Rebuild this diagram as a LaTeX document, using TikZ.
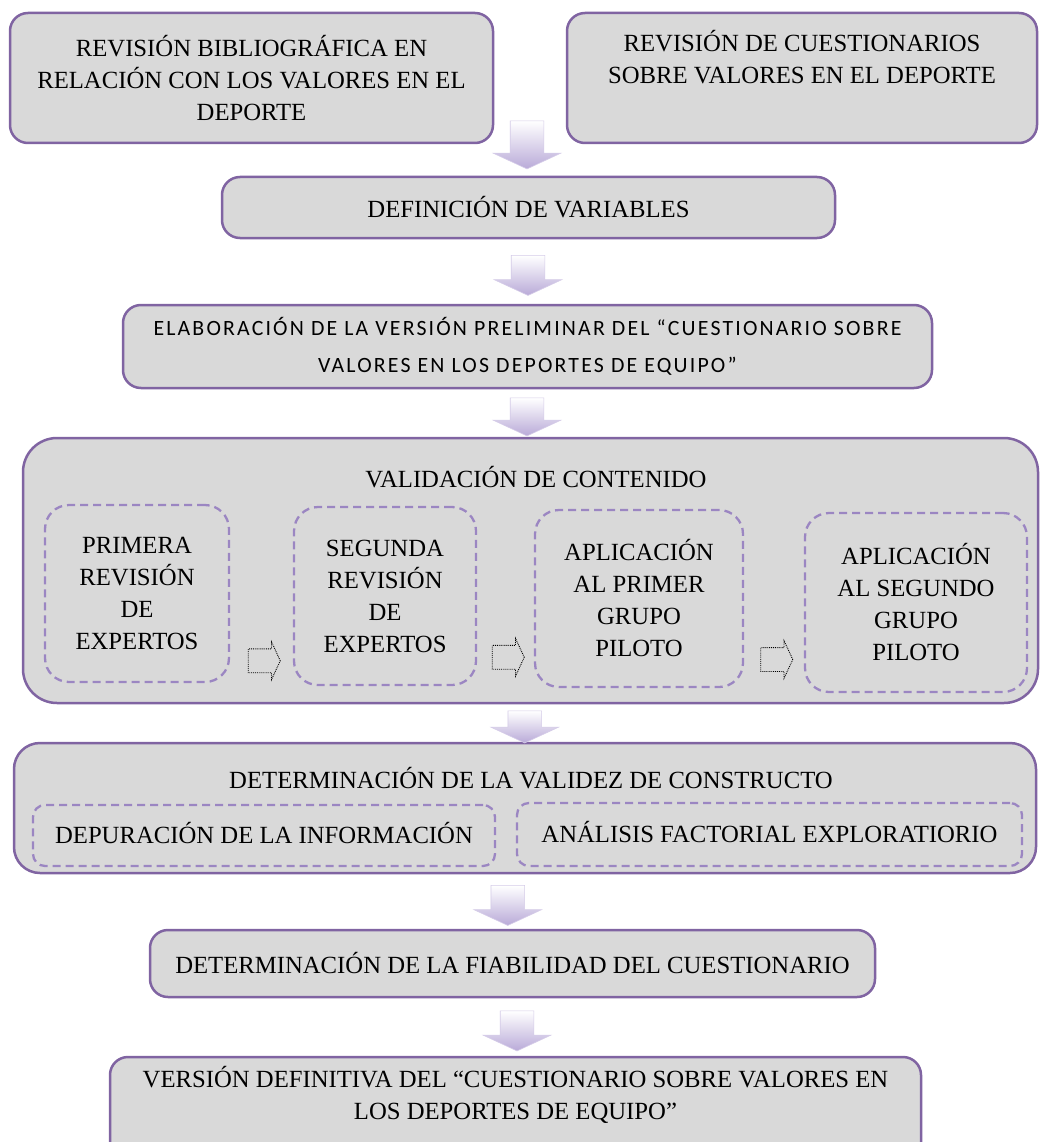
\documentclass[tikz,border=0pt]{standalone}
\usepackage{fontspec}
\setmainfont{Liberation Serif}
\newfontfamily\calfont[LetterSpace=10]{Carlito}
\usepackage{tikz}
\usetikzlibrary{shapes.arrows,calc,positioning}
\definecolor{boxfill}{RGB}{217,217,217}
\definecolor{boxline}{RGB}{128,100,162}
\definecolor{dashline}{RGB}{155,134,194}
\definecolor{arrowlav}{RGB}{185,170,216}

\begin{document}
\begin{tikzpicture}[x=1pt, y=-1pt,
  every node/.style={font=\fontsize{24.7}{32}\selectfont},
  box/.style={draw=boxline, line width=2.5pt, fill=boxfill, rounded corners=18pt,
    align=center, inner sep=0pt},
  bigbox/.style={box, rounded corners=34pt},
  dbox/.style={draw=dashline, line width=2.3pt, dash pattern=on 8pt off 5pt,
    rounded corners=24pt, align=center, inner sep=0pt},
  downarrow/.style={single arrow, shape border rotate=270, inner xsep=16.5pt,
    inner ysep=0pt, minimum height=40pt, single arrow head extend=17pt,
    single arrow tip angle=130, top color=white, bottom color=arrowlav,
    draw=arrowlav!60, line width=0.6pt},
  stepright/.style={single arrow, draw=black, densely dotted, line width=0.9pt,
    inner sep=11.5pt, minimum height=32pt,
    single arrow head extend=7pt, single arrow tip angle=130}]

  \useasboundingbox (0,0) rectangle (1040,1142);
  \clip (0,0) rectangle (1040,1142);
  \fill[white] (0,0) rectangle (1040,1142);

  % ========== TOP : REVIEWS ==========
  \node[box, minimum width=483pt, minimum height=130pt] (rev1) at (251.5,78)
    {REVISIÓN BIBLIOGRÁFICA EN\\RELACIÓN CON LOS VALORES EN EL\\DEPORTE};
  \node[box, minimum width=470pt, minimum height=130pt] (rev2) at (802,78)
    {REVISIÓN DE CUESTIONARIOS\\SOBRE VALORES EN EL DEPORTE\\\strut};

  % Variables
  \node[box, minimum width=613pt, minimum height=61pt] (def) at (528.5,207.5)
    {DEFINICIÓN DE VARIABLES};

  % Preliminary version
  \node[box, minimum width=809pt, minimum height=83pt,
        font=\calfont\fontsize{21.8}{37}\selectfont] (elab) at (527.5,346.5)
    {ELABORACIÓN DE LA VERSIÓN PRELIMINAR DEL “CUESTIONARIO SOBRE\\
     VALORES EN LOS DEPORTES DE EQUIPO”};

  % ========== CONTENT VALIDATION ==========
  \node[bigbox, minimum width=1015pt, minimum height=265pt] (val) at (530.5,570.5) {};
  \node (valtitle) at (536,477) {VALIDACIÓN DE CONTENIDO};

  \node[dbox, minimum width=184pt, minimum height=177pt] (p1) at (137,593.5)
    {PRIMERA\\REVISIÓN\\DE\\EXPERTOS};
  \node[dbox, minimum width=182pt, minimum height=178pt] (p2) at (385,596)
    {SEGUNDA\\REVISIÓN\\DE\\EXPERTOS};
  \node[dbox, minimum width=208pt, minimum height=177pt] (p3) at (639,598.5)
    {APLICACIÓN\\AL PRIMER\\GRUPO\\PILOTO};
  \node[dbox, minimum width=222pt, minimum height=179pt] (p4) at (916,602.5)
    {APLICACIÓN\\AL SEGUNDO\\GRUPO\\PILOTO};

  % Steps between reviews
  \node[stepright] (s1) at ($(p1.east)!.5!(p2.west) + (0,66)$) {};
  \node[stepright] (s2) at ($(p2.east)!.5!(p3.west) + (0,60)$) {};
  \node[stepright] (s3) at ($(p3.east)!.5!(p4.west) + (0,59)$) {};

  % ========== CONSTRUCT VALIDITY ==========
  \node[bigbox, rounded corners=26pt, minimum width=1022pt, minimum height=130pt]
    (cons) at (525,808) {};
  \node (constitle) at (531,778) {DETERMINACIÓN DE LA VALIDEZ DE CONSTRUCTO};
  \node[dbox, rounded corners=12pt, minimum width=462pt, minimum height=61pt]
    (dep) at (264,835.5) {DEPURACIÓN DE LA INFORMACIÓN\vphantom{p}};
  \node[dbox, rounded corners=12pt, minimum width=505pt, minimum height=63pt]
    (ana) at (769.5,834.5) {ANÁLISIS FACTORIAL EXPLORATIORIO\vphantom{p}};

  % Reliability and final version
  \node[box, minimum width=725pt, minimum height=67pt] (fia) at (512.5,963.5)
    {DETERMINACIÓN DE LA FIABILIDAD DEL CUESTIONARIO};
  \node[box, minimum width=811pt, minimum height=114pt] (ver) at (515.5,1114)
    {VERSIÓN DEFINITIVA DEL “CUESTIONARIO SOBRE VALORES EN\\
     LOS DEPORTES DE EQUIPO”\\\strut};

  % ========== BLOCK ARROWS ==========
  \node[downarrow, minimum height=48pt] (a1) at (527,141) {};
  \node[downarrow] (a2) at ($(def.south)!.5!(elab.north) + (0,0)$) {};
  \node[downarrow, minimum height=38pt] (a3) at ($(elab.south)!.5!(val.north) + (-2,0)$) {};
  \node[downarrow, minimum height=32pt] (a4) at ($(val.south)!.5!(cons.north) + (-3,0)$) {};
  \node[downarrow] (a5) at ($(cons.south)!.5!(fia.north) + (-11,0)$) {};
  \node[downarrow] (a6) at ($(fia.south)!.5!(ver.north) + (3,0)$) {};

\end{tikzpicture}
\end{document}
